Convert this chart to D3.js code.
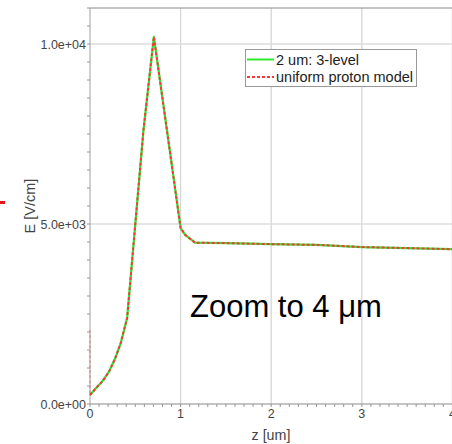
<!DOCTYPE html>
<html lang="en">
<head>
    <meta charset="UTF-8">
    <title>E field vs z</title>
    <script src="https://d3js.org/d3.v7.min.js"></script>
    <style>
        body { margin: 0; background: #fff; }
        svg { display: block; font-family: "Liberation Sans", Arial, sans-serif; }
    </style>
</head>
<body>
    <div id="chart"></div>

    <script>
        // data (z in um, E in V/cm)
        const zThreeLevel = [0, 0.07, 0.14, 0.21, 0.28, 0.34, 0.41, 0.59, 0.705, 1.0, 1.05, 1.16, 1.5, 2.0, 2.5, 3.0, 3.5, 4.0];
        const eThreeLevel = [250, 450, 640, 900, 1280, 1700, 2390, 7600, 10200, 4890, 4700, 4480, 4470, 4440, 4420, 4360, 4330, 4300];
        const zUniform = [0, 0, 0.07, 0.14, 0.21, 0.28, 0.34, 0.41, 0.59, 0.705, 1.0, 1.05, 1.16, 1.5, 2.0, 2.5, 3.0, 3.5, 4.0];
        const eUniform = [2050, 250, 450, 640, 900, 1280, 1700, 2390, 7600, 10200, 4890, 4700, 4480, 4470, 4440, 4420, 4360, 4330, 4300];
        const xTicks = [0, 1, 2, 3, 4];
        const yTicks = [0, 5000, 10000];
        const seriesNames = ["2 um: 3-level", "uniform proton model"];

        const width = 452, height = 444;
        const svg = d3.select("#chart").append("svg")
            .attr("width", width)
            .attr("height", height);

        const x = d3.scaleLinear().domain([0, 4]).range([90, 452.4]);
        const y = d3.scaleLinear().domain([0, 11000]).range([404, 8]);

        // grid
        svg.append("g").selectAll("line")
            .data(xTicks.filter(d => d > 0))
            .join("line")
            .attr("x1", d => x(d)).attr("x2", d => x(d))
            .attr("y1", y(11000)).attr("y2", y(0))
            .attr("stroke", "#d6d6d6").attr("stroke-width", 1.3);
        svg.append("g").selectAll("line")
            .data(yTicks.filter(d => d > 0))
            .join("line")
            .attr("x1", x(0)).attr("x2", width)
            .attr("y1", d => y(d)).attr("y2", d => y(d))
            .attr("stroke", "#dcdcdc").attr("stroke-width", 1.6);

        // minor ticks
        svg.append("g").selectAll("line")
            .data(d3.range(0, 11001, 500))
            .join("line")
            .attr("x1", x(0) - 3).attr("x2", x(0))
            .attr("y1", d => y(d)).attr("y2", d => y(d))
            .attr("stroke", "#999");
        svg.append("g").selectAll("line")
            .data(d3.range(0, 41).map(i => i / 10))
            .join("line")
            .attr("x1", d => x(d)).attr("x2", d => x(d))
            .attr("y1", y(0)).attr("y2", y(0) + 3)
            .attr("stroke", "#999");

        // frame
        svg.append("line")
            .attr("x1", x(0)).attr("x2", width)
            .attr("y1", y(11000)).attr("y2", y(11000))
            .attr("stroke", "#8a8a8a");
        svg.append("line")
            .attr("x1", x(0)).attr("x2", width)
            .attr("y1", y(0)).attr("y2", y(0))
            .attr("stroke", "#8a8a8a");

        // tick labels
        svg.append("g").selectAll("text")
            .data(yTicks)
            .join("text")
            .attr("x", x(0) - 4)
            .attr("y", d => y(d) + 4.5)
            .attr("text-anchor", "end")
            .attr("font-size", 12.5)
            .attr("fill", "#444")
            .text(d => d3.format(".1e")(d).replace(/e([+-])(\d)$/, "e$10$2"));
        svg.append("g").selectAll("text")
            .data(xTicks)
            .join("text")
            .attr("x", d => x(d))
            .attr("y", 418)
            .attr("text-anchor", "middle")
            .attr("font-size", 12.5)
            .attr("fill", "#444")
            .text(d => d);

        // axis titles
        svg.append("text")
            .attr("x", 271).attr("y", 440)
            .attr("text-anchor", "middle")
            .attr("font-size", 14.3)
            .attr("fill", "#444")
            .text("z [um]");
        svg.append("text")
            .attr("transform", "translate(34.5,206) rotate(-90)")
            .attr("text-anchor", "middle")
            .attr("font-size", 14.5)
            .attr("fill", "#444")
            .text("E [V/cm]");

        // series
        const line = d3.line().x(d => x(d[0])).y(d => y(d[1]));
        const uniform = d3.zip(zUniform, eUniform);
        // first (vertical) segment of the uniform model shows only faintly over the axis
        svg.append("path")
            .datum(uniform.slice(0, 2))
            .attr("d", line)
            .attr("fill", "none")
            .attr("stroke", "#f5a0a0")
            .attr("stroke-width", 1.5)
            .attr("stroke-dasharray", "3,2");
        svg.append("line")
            .attr("x1", x(0)).attr("x2", x(0))
            .attr("y1", y(11000)).attr("y2", y(0))
            .attr("stroke", "#8a8a8a").attr("stroke-opacity", 0.8);
        svg.append("path")
            .datum(d3.zip(zThreeLevel, eThreeLevel))
            .attr("d", line)
            .attr("fill", "none")
            .attr("stroke", "#2ee82e")
            .attr("stroke-width", 2.2)
            .attr("stroke-linejoin", "round");
        svg.append("path")
            .datum(uniform.slice(1))
            .attr("d", line)
            .attr("fill", "none")
            .attr("stroke", "#f23a3a")
            .attr("stroke-width", 2)
            .attr("stroke-dasharray", "3,2");

        // legend
        const legend = svg.append("g");
        legend.append("rect")
            .attr("x", 245.5).attr("y", 49.5)
            .attr("width", 171).attr("height", 37)
            .attr("fill", "#fff")
            .attr("stroke", "#999");
        legend.append("line")
            .attr("x1", 247).attr("x2", 274).attr("y1", 59.5).attr("y2", 59.5)
            .attr("stroke", "#2ee82e").attr("stroke-width", 2);
        legend.append("line")
            .attr("x1", 247).attr("x2", 274).attr("y1", 77).attr("y2", 77)
            .attr("stroke", "#f23a3a").attr("stroke-width", 2)
            .attr("stroke-dasharray", "3,2");
        legend.selectAll("text")
            .data(seriesNames)
            .join("text")
            .attr("x", 276)
            .attr("y", (d, i) => 65 + i * 17)
            .attr("font-size", 14.5)
            .attr("fill", "#222")
            .text(d => d);

        // slide annotation
        svg.append("text")
            .attr("x", 190).attr("y", 317)
            .attr("font-size", 31)
            .attr("fill", "#000")
            .text("Zoom to 4 μm");
        svg.append("line")
            .attr("x1", 0).attr("x2", 5).attr("y1", 202.5).attr("y2", 202.5)
            .attr("stroke", "#e8141c").attr("stroke-width", 3);
    </script>
</body>
</html>
